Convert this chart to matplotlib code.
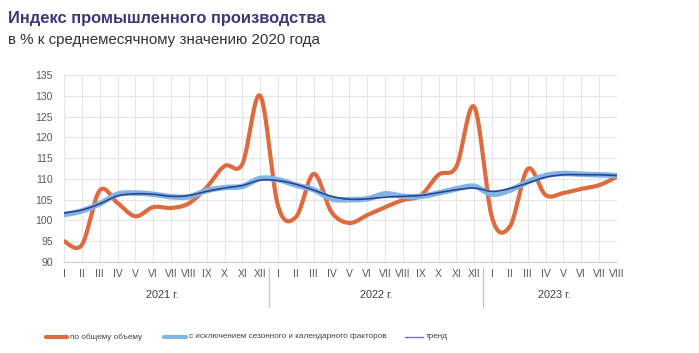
import numpy as np
import matplotlib
matplotlib.use("Agg")
import matplotlib.pyplot as plt
from matplotlib.lines import Line2D

months = ["I", "II", "III", "IV", "V", "VI", "VII", "VIII", "IX", "X", "XI", "XII",
          "I", "II", "III", "IV", "V", "VI", "VII", "VIII", "IX", "X", "XI", "XII",
          "I", "II", "III", "IV", "V", "VI", "VII", "VIII"]
years = ["2021 г.", "2022 г.", "2023 г."]
year_sizes = [12, 12, 8]

total = [95.0, 94.1, 107.2, 104.2, 101.0, 103.2, 103.0, 104.1, 108.0, 113.1, 113.6, 130.0,
         103.5, 100.8, 111.2, 102.0, 99.4, 101.3, 103.2, 104.9, 106.0, 111.0, 113.0, 127.3,
         100.6, 98.6, 112.4, 106.1, 106.6, 107.6, 108.5, 110.5]
seasonal = [101.4, 102.3, 104.0, 106.3, 106.6, 106.3, 105.7, 105.7, 107.2, 107.9, 108.2, 110.1,
            109.8, 108.5, 107.4, 105.2, 105.0, 105.2, 106.4, 105.8, 105.8, 106.6, 107.6, 108.2,
            106.3, 107.3, 109.3, 110.8, 111.3, 111.1, 111.0, 110.8]
trend = [101.8, 102.5, 104.0, 105.9, 106.4, 106.3, 105.8, 106.0, 107.0, 107.8, 108.4, 109.7,
         109.6, 108.7, 107.3, 105.8, 105.1, 105.2, 105.6, 105.8, 106.0, 106.7, 107.4, 107.8,
         107.0, 107.7, 109.0, 110.4, 111.0, 111.0, 111.0, 110.8]

legend_labels = ["по общему объему", "с исключением сезонного и календарного факторов", "тренд"]
title = "Индекс промышленного производства"
subtitle = "в % к среднемесячному значению 2020 года"


def smooth(x, y, n=20):
    """Excel-like smoothed line (cardinal/Catmull-Rom Bezier through the points)."""
    x = np.asarray(x, float)
    y = np.asarray(y, float)
    P = np.column_stack([x, y])
    Pe = np.vstack([P[0], P, P[-1]])
    out = []
    t = np.linspace(0, 1, n, endpoint=False)[:, None]
    for i in range(len(P) - 1):
        p0, p1, p2, p3 = Pe[i], Pe[i + 1], Pe[i + 2], Pe[i + 3]
        c1 = p1 + (p2 - p0) / 6
        c2 = p2 - (p3 - p1) / 6
        seg = ((1 - t) ** 3) * p1 + 3 * ((1 - t) ** 2) * t * c1 + 3 * (1 - t) * t ** 2 * c2 + t ** 3 * p2
        out.append(seg)
    out.append(P[-1][None, :])
    arr = np.vstack(out)
    return arr[:, 0], arr[:, 1]


plt.rcParams['font.family'] = ['Liberation Sans', 'DejaVu Sans']

W, H = 699, 353
fig = plt.figure(figsize=(W / 100, H / 100), dpi=100)
ax = fig.add_axes([64 / W, 1 - 262 / H, (617 - 64) / W, (262 - 75) / H])

x = np.arange(len(months))
c_orange = "#DE6A3E"
c_blue = "#82B4E6"
c_trend = "#2B4393"

xs, ys = smooth(x, total)
ax.plot(xs, ys, color=c_orange, lw=3.0, solid_capstyle="round", zorder=3)
xs, ys = smooth(x, seasonal)
ax.plot(xs, ys, color=c_blue, lw=4.0, solid_capstyle="round", zorder=4)
xs, ys = smooth(x, trend)
ax.plot(xs, ys, color=c_trend, lw=1.2, zorder=5)

ax.set_xlim(0, len(months) - 1)
ax.set_ylim(90, 135)
ax.set_yticks(np.arange(90, 136, 5))
ax.set_xticks(x)
ax.set_xticklabels(months)
ax.grid(True, color="#E6E6E6", lw=0.8)
ax.set_axisbelow(True)
for s in ["top", "right"]:
    ax.spines[s].set_visible(False)
ax.spines["left"].set_color("#E6E6E6")
ax.spines["bottom"].set_color("#D0D0D0")
ax.tick_params(axis="both", length=0, labelsize=7.5, colors="#595959", pad=5)
ax.tick_params(axis="y", pad=8)

# year labels and separators
start = 0
bounds = []
for yl, n in zip(years, year_sizes):
    end = start + n - 1
    ax.text((start + end) / 2, -0.175, yl, transform=ax.get_xaxis_transform(),
            ha="center", va="center", fontsize=7.8, color="#404040")
    start += n
    if start < len(months):
        bounds.append(start - 0.5)
for b in bounds:
    ax.plot([b, b], [-0.03, -0.24], transform=ax.get_xaxis_transform(),
            color="#C8C8C8", lw=1.0, clip_on=False)

fig.text(8 / W, 1 - 19 / H, title, fontsize=11.9, fontweight="bold", color="#3D3878",
         ha="left", va="center")
fig.text(8 / W, 1 - 40 / H, subtitle, fontsize=10.9, color="#333333",
         ha="left", va="center")

# legend (placed manually in figure pixels)
leg_y = 1 - 337 / H
leg_items = [
    (46, 67, 70, dict(color=c_orange, lw=3.0, solid_capstyle="round")),
    (164, 186, 189, dict(color=c_blue, lw=3.0, solid_capstyle="round")),
    (405, 423, 426, dict(color="#6A7BB0", lw=1.0)),
]
for (x0, x1, xt, style), lab in zip(leg_items, legend_labels):
    fig.add_artist(Line2D([x0 / W, x1 / W], [leg_y, leg_y], transform=fig.transFigure, **style))
    fig.text(xt / W, leg_y, lab, fontsize=5.85, color="#404040", ha="left", va="center")

fig.savefig("out.png", dpi=100, facecolor="white")
